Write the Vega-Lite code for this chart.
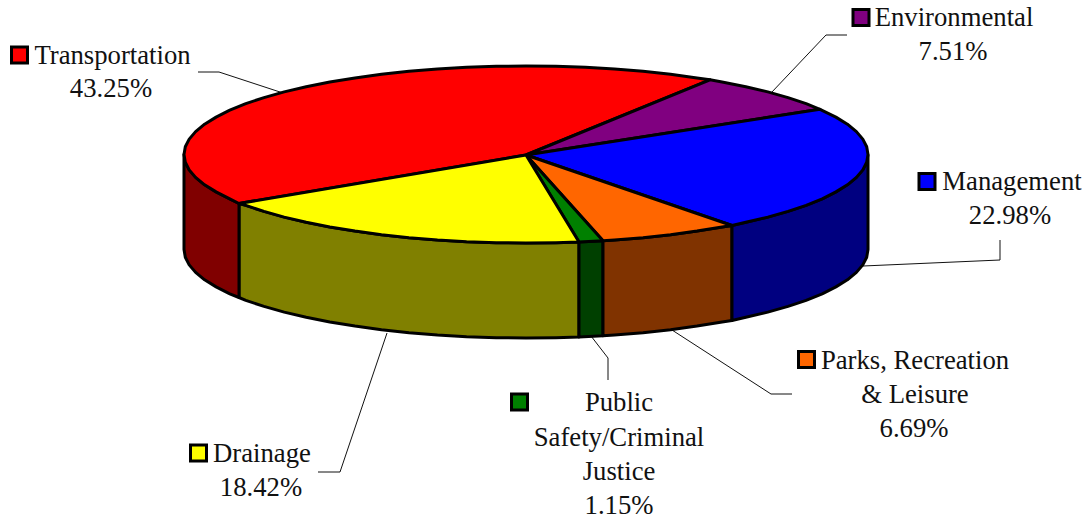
{"$schema":"https://vega.github.io/schema/vega-lite/v6.json","width":1089,"height":520,"autosize":{"type":"fit","contains":"padding"},"padding":0,"background":"white","config":{"view":{"stroke":null}},
"datasets":{
"leaders":[
{"s":"Transportation","i":0,"x":198,"y":72},{"s":"Transportation","i":1,"x":219,"y":72},{"s":"Transportation","i":2,"x":283,"y":93},
{"s":"Environmental","i":0,"x":847,"y":35},{"s":"Environmental","i":1,"x":826,"y":35},{"s":"Environmental","i":2,"x":771,"y":93},
{"s":"Management","i":0,"x":1000,"y":240},{"s":"Management","i":1,"x":1000,"y":260},{"s":"Management","i":2,"x":863,"y":266},
{"s":"Parks","i":0,"x":792,"y":394},{"s":"Parks","i":1,"x":771,"y":394},{"s":"Parks","i":2,"x":672,"y":330},
{"s":"Public","i":0,"x":608,"y":380},{"s":"Public","i":1,"x":608,"y":358},{"s":"Public","i":2,"x":591,"y":336},
{"s":"Drainage","i":0,"x":318,"y":472},{"s":"Drainage","i":1,"x":340,"y":472},{"s":"Drainage","i":2,"x":387,"y":333}
],
"keys":[
{"slice":"Transportation","x":19.5,"y":55},{"slice":"Environmental","x":861,"y":17.5},{"slice":"Management","x":927,"y":181.5},{"slice":"Parks, Recreation & Leisure","x":806.5,"y":359.5},{"slice":"Public Safety/Criminal Justice","x":519.5,"y":402},{"slice":"Drainage","x":198.5,"y":453}
],
"labels":[
{"t":"Transportation","x":112.5,"y":64},{"t":"43.25%","x":111,"y":97},
{"t":"Environmental","x":954,"y":26},{"t":"7.51%","x":953,"y":60},
{"t":"Management","x":1012,"y":190},{"t":"22.98%","x":1010,"y":224},
{"t":"Parks, Recreation","x":915,"y":369},{"t":"& Leisure","x":915,"y":403},{"t":"6.69%","x":914,"y":437},
{"t":"Public","x":619,"y":411},{"t":"Safety/Criminal","x":619,"y":446},{"t":"Justice","x":619,"y":480},{"t":"1.15%","x":619,"y":514},
{"t":"Drainage","x":262,"y":462},{"t":"18.42%","x":261,"y":496}
],
"pie":[
{"part":"Drainage side","i":0,"x":579,"y":242},{"part":"Drainage side","i":1,"x":526,"y":243},{"part":"Drainage side","i":2,"x":466.6,"y":241.7},{"part":"Drainage side","i":3,"x":409,"y":237.7},{"part":"Drainage side","i":4,"x":355,"y":231.1},{"part":"Drainage side","i":5,"x":306.2,"y":222.3},{"part":"Drainage side","i":6,"x":264,"y":211.4},{"part":"Drainage side","i":7,"x":239,"y":203.5},{"part":"Drainage side","i":8,"x":239,"y":297.5},{"part":"Drainage side","i":9,"x":264,"y":306.4},{"part":"Drainage side","i":10,"x":306.2,"y":317.3},{"part":"Drainage side","i":11,"x":355,"y":326.1},{"part":"Drainage side","i":12,"x":409,"y":332.7},{"part":"Drainage side","i":13,"x":466.6,"y":336.7},{"part":"Drainage side","i":14,"x":526,"y":338},{"part":"Drainage side","i":15,"x":579,"y":337},{"part":"Drainage side","i":16,"x":579,"y":242},
{"part":"Drainage side","i":0.5,"x":555.8,"y":242.7},{"part":"Drainage side","i":1.5,"x":496.2,"y":242.7},{"part":"Drainage side","i":2.5,"x":437.5,"y":240},{"part":"Drainage side","i":3.5,"x":381.5,"y":234.7},{"part":"Drainage side","i":4.5,"x":329.8,"y":227},{"part":"Drainage side","i":5.5,"x":284.2,"y":217.1},{"part":"Drainage side","i":6.5,"x":245.8,"y":205.3},{"part":"Drainage side","i":8.5,"x":245.8,"y":300.3},{"part":"Drainage side","i":9.5,"x":284.2,"y":312.1},{"part":"Drainage side","i":10.5,"x":329.8,"y":322},{"part":"Drainage side","i":11.5,"x":381.5,"y":329.7},{"part":"Drainage side","i":12.5,"x":437.5,"y":335},{"part":"Drainage side","i":13.5,"x":496.2,"y":337.7},{"part":"Drainage side","i":14.5,"x":555.8,"y":337.7},
{"part":"Public side","i":0,"x":603,"y":240.7},{"part":"Public side","i":1,"x":579,"y":242},{"part":"Public side","i":2,"x":579,"y":337},{"part":"Public side","i":3,"x":603,"y":335.7},{"part":"Public side","i":4,"x":603,"y":240.7},
{"part":"Parks side","i":0,"x":732,"y":225.5},{"part":"Parks side","i":1,"x":697,"y":231.1},{"part":"Parks side","i":2,"x":643,"y":237.7},{"part":"Parks side","i":3,"x":603,"y":240.7},{"part":"Parks side","i":4,"x":603,"y":335.7},{"part":"Parks side","i":5,"x":643,"y":332.7},{"part":"Parks side","i":6,"x":697,"y":326.1},{"part":"Parks side","i":7,"x":732,"y":320.5},{"part":"Parks side","i":8,"x":732,"y":225.5},
{"part":"Parks side","i":0.5,"x":722.1,"y":227},{"part":"Parks side","i":1.5,"x":670.5,"y":234.7},{"part":"Parks side","i":2.5,"x":614.5,"y":240},{"part":"Parks side","i":4.5,"x":614.5,"y":335},{"part":"Parks side","i":5.5,"x":670.5,"y":329.7},{"part":"Parks side","i":6.5,"x":722.1,"y":322},
{"part":"Management side","i":0,"x":868,"y":154.5},{"part":"Management side","i":1,"x":866.7,"y":162.2},{"part":"Management side","i":2,"x":862.8,"y":169.9},{"part":"Management side","i":3,"x":856.4,"y":177.4},{"part":"Management side","i":4,"x":847.4,"y":184.8},{"part":"Management side","i":5,"x":835.9,"y":191.9},{"part":"Management side","i":6,"x":822.2,"y":198.8},{"part":"Management side","i":7,"x":788,"y":211.4},{"part":"Management side","i":8,"x":745.8,"y":222.3},{"part":"Management side","i":9,"x":732,"y":225.5},{"part":"Management side","i":10,"x":732,"y":320.5},{"part":"Management side","i":11,"x":745.8,"y":317.3},{"part":"Management side","i":12,"x":788,"y":306.4},{"part":"Management side","i":13,"x":822.2,"y":293.8},{"part":"Management side","i":14,"x":835.9,"y":286.9},{"part":"Management side","i":15,"x":847.4,"y":279.8},{"part":"Management side","i":16,"x":856.4,"y":272.4},{"part":"Management side","i":17,"x":862.8,"y":264.9},{"part":"Management side","i":18,"x":866.7,"y":257.2},{"part":"Management side","i":19,"x":868,"y":249.5},{"part":"Management side","i":20,"x":868,"y":154.5},
{"part":"Management side","i":6.5,"x":806.1,"y":205.3},{"part":"Management side","i":7.5,"x":767.8,"y":217.1},{"part":"Management side","i":11.5,"x":767.8,"y":312.1},{"part":"Management side","i":12.5,"x":806.1,"y":300.3},
{"part":"Transportation side","i":0,"x":239,"y":203.5},{"part":"Transportation side","i":1,"x":229.8,"y":198.8},{"part":"Transportation side","i":2,"x":216.1,"y":191.9},{"part":"Transportation side","i":3,"x":204.6,"y":184.8},{"part":"Transportation side","i":4,"x":195.6,"y":177.4},{"part":"Transportation side","i":5,"x":189.2,"y":169.9},{"part":"Transportation side","i":6,"x":185.3,"y":162.2},{"part":"Transportation side","i":7,"x":184,"y":154.5},{"part":"Transportation side","i":8,"x":184,"y":249.5},{"part":"Transportation side","i":9,"x":185.3,"y":257.2},{"part":"Transportation side","i":10,"x":189.2,"y":264.9},{"part":"Transportation side","i":11,"x":195.6,"y":272.4},{"part":"Transportation side","i":12,"x":204.6,"y":279.8},{"part":"Transportation side","i":13,"x":216.1,"y":286.9},{"part":"Transportation side","i":14,"x":229.8,"y":293.8},{"part":"Transportation side","i":15,"x":239,"y":297.5},{"part":"Transportation side","i":16,"x":239,"y":203.5},
{"part":"Transportation","i":0,"x":526,"y":155},{"part":"Transportation","i":1,"x":239,"y":203.5},{"part":"Transportation","i":2,"x":229.8,"y":198.8},{"part":"Transportation","i":3,"x":216.1,"y":191.9},{"part":"Transportation","i":4,"x":204.6,"y":184.8},{"part":"Transportation","i":5,"x":195.6,"y":177.4},{"part":"Transportation","i":6,"x":189.2,"y":169.9},{"part":"Transportation","i":7,"x":185.3,"y":162.2},{"part":"Transportation","i":8,"x":184,"y":154.5},{"part":"Transportation","i":9,"x":185.3,"y":146.8},{"part":"Transportation","i":10,"x":189.2,"y":139.1},{"part":"Transportation","i":11,"x":195.6,"y":131.6},{"part":"Transportation","i":12,"x":204.6,"y":124.2},{"part":"Transportation","i":13,"x":216.1,"y":117.1},{"part":"Transportation","i":14,"x":229.8,"y":110.2},{"part":"Transportation","i":15,"x":264,"y":97.6},{"part":"Transportation","i":16,"x":306.2,"y":86.7},{"part":"Transportation","i":17,"x":355,"y":77.9},{"part":"Transportation","i":18,"x":409,"y":71.3},{"part":"Transportation","i":19,"x":466.6,"y":67.3},{"part":"Transportation","i":20,"x":526,"y":66},{"part":"Transportation","i":21,"x":585.4,"y":67.3},{"part":"Transportation","i":22,"x":643,"y":71.3},{"part":"Transportation","i":23,"x":697,"y":77.9},{"part":"Transportation","i":24,"x":710,"y":79.8},{"part":"Transportation","i":25,"x":526,"y":155},
{"part":"Transportation","i":14.5,"x":245.8,"y":103.7},{"part":"Transportation","i":15.5,"x":284.2,"y":91.9},{"part":"Transportation","i":16.5,"x":329.8,"y":82},{"part":"Transportation","i":17.5,"x":381.5,"y":74.3},{"part":"Transportation","i":18.5,"x":437.5,"y":69},{"part":"Transportation","i":19.5,"x":496.2,"y":66.3},{"part":"Transportation","i":20.5,"x":555.8,"y":66.3},{"part":"Transportation","i":21.5,"x":614.5,"y":69},{"part":"Transportation","i":22.5,"x":670.5,"y":74.3},
{"part":"Environmental","i":0,"x":526,"y":155},{"part":"Environmental","i":1,"x":710,"y":79.8},{"part":"Environmental","i":2,"x":745.8,"y":86.7},{"part":"Environmental","i":3,"x":788,"y":97.6},{"part":"Environmental","i":4,"x":820,"y":109.3},{"part":"Environmental","i":5,"x":526,"y":155},
{"part":"Environmental","i":1.5,"x":722.1,"y":82},{"part":"Environmental","i":2.5,"x":767.8,"y":91.9},{"part":"Environmental","i":3.5,"x":806.1,"y":103.7},
{"part":"Management","i":0,"x":526,"y":155},{"part":"Management","i":1,"x":820,"y":109.3},{"part":"Management","i":2,"x":835.9,"y":117.1},{"part":"Management","i":3,"x":847.4,"y":124.2},{"part":"Management","i":4,"x":856.4,"y":131.6},{"part":"Management","i":5,"x":862.8,"y":139.1},{"part":"Management","i":6,"x":866.7,"y":146.8},{"part":"Management","i":7,"x":868,"y":154.5},{"part":"Management","i":8,"x":866.7,"y":162.2},{"part":"Management","i":9,"x":862.8,"y":169.9},{"part":"Management","i":10,"x":856.4,"y":177.4},{"part":"Management","i":11,"x":847.4,"y":184.8},{"part":"Management","i":12,"x":835.9,"y":191.9},{"part":"Management","i":13,"x":822.2,"y":198.8},{"part":"Management","i":14,"x":788,"y":211.4},{"part":"Management","i":15,"x":745.8,"y":222.3},{"part":"Management","i":16,"x":732,"y":225.5},{"part":"Management","i":17,"x":526,"y":155},
{"part":"Management","i":13.5,"x":806.1,"y":205.3},{"part":"Management","i":14.5,"x":767.8,"y":217.1},
{"part":"Parks, Recreation & Leisure","i":0,"x":526,"y":155},{"part":"Parks, Recreation & Leisure","i":1,"x":732,"y":225.5},{"part":"Parks, Recreation & Leisure","i":2,"x":697,"y":231.1},{"part":"Parks, Recreation & Leisure","i":3,"x":643,"y":237.7},{"part":"Parks, Recreation & Leisure","i":4,"x":603,"y":240.7},{"part":"Parks, Recreation & Leisure","i":5,"x":526,"y":155},
{"part":"Parks, Recreation & Leisure","i":1.5,"x":722.1,"y":227},{"part":"Parks, Recreation & Leisure","i":2.5,"x":670.5,"y":234.7},{"part":"Parks, Recreation & Leisure","i":3.5,"x":614.5,"y":240},
{"part":"Public Safety/Criminal Justice","i":0,"x":526,"y":155},{"part":"Public Safety/Criminal Justice","i":1,"x":603,"y":240.7},{"part":"Public Safety/Criminal Justice","i":2,"x":579,"y":242},{"part":"Public Safety/Criminal Justice","i":3,"x":526,"y":155},
{"part":"Drainage","i":0,"x":526,"y":155},{"part":"Drainage","i":1,"x":579,"y":242},{"part":"Drainage","i":2,"x":526,"y":243},{"part":"Drainage","i":3,"x":466.6,"y":241.7},{"part":"Drainage","i":4,"x":409,"y":237.7},{"part":"Drainage","i":5,"x":355,"y":231.1},{"part":"Drainage","i":6,"x":306.2,"y":222.3},{"part":"Drainage","i":7,"x":264,"y":211.4},{"part":"Drainage","i":8,"x":239,"y":203.5},{"part":"Drainage","i":9,"x":526,"y":155},
{"part":"Drainage","i":1.5,"x":555.8,"y":242.7},{"part":"Drainage","i":2.5,"x":496.2,"y":242.7},{"part":"Drainage","i":3.5,"x":437.5,"y":240},{"part":"Drainage","i":4.5,"x":381.5,"y":234.7},{"part":"Drainage","i":5.5,"x":329.8,"y":227},{"part":"Drainage","i":6.5,"x":284.2,"y":217.1},{"part":"Drainage","i":7.5,"x":245.8,"y":205.3}
]},
"encoding":{
"x":{"field":"x","type":"quantitative","scale":{"domain":[0,1089],"nice":false,"zero":false},"axis":null},
"y":{"field":"y","type":"quantitative","scale":{"domain":[520,0],"nice":false,"zero":false},"axis":null}
},
"layer":[
{"data":{"name":"leaders"},"mark":{"type":"line","stroke":"#111111","strokeWidth":1,"clip":false},"encoding":{"order":{"field":"i"},"detail":{"field":"s"}}},
{"data":{"name":"pie"},"mark":{"type":"line","stroke":"black","strokeWidth":3,"strokeJoin":"round"},"encoding":{"order":{"field":"i"},"fill":{"field":"part","type":"nominal","legend":null,"scale":{"domain":["Transportation","Environmental","Management","Parks, Recreation & Leisure","Public Safety/Criminal Justice","Drainage","Transportation side","Management side","Parks side","Public side","Drainage side"],"range":["#FF0000","#800080","#0000FF","#FF6600","#008000","#FFFF00","#800000","#000080","#803300","#004000","#808000"]}}}},
{"data":{"name":"keys"},"mark":{"type":"point","shape":"square","filled":true,"size":256,"stroke":"black","strokeWidth":3,"opacity":1},"encoding":{"fill":{"field":"slice","type":"nominal","legend":null}}},
{"data":{"name":"labels"},"mark":{"type":"text","font":"Liberation Serif","fontSize":26.7,"baseline":"alphabetic","align":"center","color":"#111111"},"encoding":{"text":{"field":"t"}}}
]}
